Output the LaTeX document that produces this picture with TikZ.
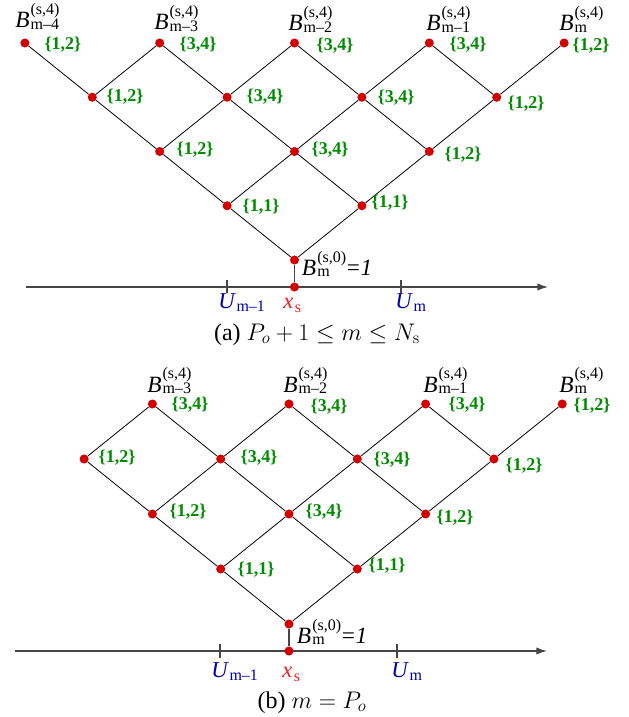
\RequirePackage{fix-cm}
\documentclass[tikz,border=0pt]{standalone}
\usepackage{amsmath}
\usepackage[no-math]{fontspec}
\setmainfont{Liberation Serif}
\usetikzlibrary{arrows.meta}
\definecolor{dotred}{RGB}{210,0,0}
\definecolor{lblgreen}{RGB}{0,140,0}
\definecolor{ublue}{RGB}{0,0,170}
\definecolor{xred}{RGB}{240,30,30}
\definecolor{axisgray}{RGB}{70,70,70}
\newlength\supw
\newlength\subw
\newcommand{\scsz}{\fontsize{12}{12}\selectfont}
\newcommand{\SubSup}[4]{\settowidth\supw{\scsz #1}\settowidth\subw{\scsz #2}%
  \rlap{\raisebox{#3}{\scsz #1}}\rlap{\raisebox{#4}{\scsz #2}}%
  \ifdim\supw>\subw\hspace{\supw}\else\hspace{\subw}\fi}
\newcommand{\Bfour}[1]{\textit{B}\kern0.8pt\SubSup{(s,4)}{#1}{9.8pt}{-1pt}}
\newcommand{\Bzero}{\textit{B}\kern0.8pt\SubSup{(s,0)}{m}{9.3pt}{-1pt}\kern0.5pt=\kern0.5pt\textit{1}}
\newcommand{\Ulbl}[1]{\textit{U}\kern0.5pt\raisebox{-2.6pt}{\scsz #1}}
\newcommand{\Xlbl}{\textit{x}\kern1.2pt\raisebox{-3.6pt}{\scsz s}}
\begin{document}
\begin{tikzpicture}[x=0.75pt,y=-0.75pt,
  dot/.style={circle,fill=dotred,inner sep=0pt,minimum size=6.8pt},
  ln/.style={line width=0.6pt,black},
  grp/.style={font=\fontsize{13.5}{14}\selectfont\bfseries,text=lblgreen,inner sep=0pt},
  blbl/.style={font=\fontsize{17.5}{18}\selectfont,inner sep=0pt,anchor=base west},
  axlbl/.style={font=\fontsize{17}{17}\selectfont,inner sep=0pt,anchor=base west},
  axisline/.style={line width=0.9pt,axisgray,-{Latex[length=8pt,width=5.5pt]}},
  tickline/.style={line width=0.8pt,axisgray},
  vline/.style={line width=0.9pt,axisgray},
  captext/.style={font=\fontsize{18}{19}\selectfont,inner sep=0pt,anchor=base}]
\useasboundingbox (0,0) rectangle (628,717);

% ================= (a) =================
\coordinate (aAL) at (26,287);
\coordinate (aAR) at (548,287);
\draw[axisline] (aAL) -- (aAR);
\coordinate (aT1a) at (227,280); \coordinate (aT1b) at (227,293);
\coordinate (aT2a) at (401,280); \coordinate (aT2b) at (401,293);
\draw[tickline] (aT1a) -- (aT1b);
\draw[tickline] (aT2a) -- (aT2b);

\node[dot] (a0) at (294.5,260) {};
\node[dot] (axs) at (294.5,287) {};
\node[dot] (a1m) at (227.1,205.75) {};
\node[dot] (a1p) at (361.9,205.75) {};
\node[dot] (a2m) at (159.7,151.5) {};
\node[dot] (a2z) at (294.5,151.5) {};
\node[dot] (a2p) at (429.3,151.5) {};
\node[dot] (a3a) at (92.3,97.25) {};
\node[dot] (a3b) at (227.1,97.25) {};
\node[dot] (a3c) at (361.9,97.25) {};
\node[dot] (a3d) at (496.7,97.25) {};
\node[dot] (a4a) at (24.9,43) {};
\node[dot] (a4b) at (159.7,43) {};
\node[dot] (a4c) at (294.5,43) {};
\node[dot] (a4d) at (429.3,43) {};
\node[dot] (a4e) at (564.1,43) {};

\draw[vline] (a0) -- (axs);
\draw[ln] (a0) -- (a1m); \draw[ln] (a0) -- (a1p);
\draw[ln] (a1m) -- (a2m); \draw[ln] (a1m) -- (a2z);
\draw[ln] (a1p) -- (a2z); \draw[ln] (a1p) -- (a2p);
\draw[ln] (a2m) -- (a3a); \draw[ln] (a2m) -- (a3b);
\draw[ln] (a2z) -- (a3b); \draw[ln] (a2z) -- (a3c);
\draw[ln] (a2p) -- (a3c); \draw[ln] (a2p) -- (a3d);
\draw[ln] (a3a) -- (a4a); \draw[ln] (a3a) -- (a4b);
\draw[ln] (a3b) -- (a4b); \draw[ln] (a3b) -- (a4c);
\draw[ln] (a3c) -- (a4c); \draw[ln] (a3c) -- (a4d);
\draw[ln] (a3d) -- (a4d); \draw[ln] (a3d) -- (a4e);

% green labels (a)
\node[grp] (ga4a) at (63,45) {\{1,2\}};
\node[grp] (ga4b) at (198,45) {\{3,4\}};
\node[grp] (ga4c) at (335,46) {\{3,4\}};
\node[grp] (ga4d) at (468,45) {\{3,4\}};
\node[grp] (ga4e) at (591,46) {\{1,2\}};
\node[grp] (ga3a) at (125,97) {\{1,2\}};
\node[grp] (ga3b) at (265,97) {\{3,4\}};
\node[grp] (ga3c) at (396,98) {\{3,4\}};
\node[grp] (ga3d) at (526,104) {\{1,2\}};
\node[grp] (ga2m) at (195,150) {\{1,2\}};
\node[grp] (ga2z) at (330,150) {\{3,4\}};
\node[grp] (ga2p) at (463,155) {\{1,2\}};
\node[grp] (ga1m) at (261,207) {\{1,1\}};
\node[grp] (ga1p) at (390,203) {\{1,1\}};

% B labels (a)
\node[blbl] (ba4a) at (15,28) {\Bfour{m–4}};
\node[blbl] (ba4b) at (154,30) {\Bfour{m–3}};
\node[blbl] (ba4c) at (288,31) {\Bfour{m–2}};
\node[blbl] (ba4d) at (426,31) {\Bfour{m–1}};
\node[blbl] (ba4e) at (559,31) {\Bfour{m}};
\node[blbl] (ba0) at (301.7,275) {\Bzero};

% axis labels (a)
\node[axlbl,text=ublue] (aU1) at (218,308) {\Ulbl{m–1}};
\node[axlbl,text=xred] (aX) at (283,308) {\Xlbl};
\node[axlbl,text=ublue] (aU2) at (395,308) {\Ulbl{m}};
\node[captext] (capa) at (317,340) {(a) $P_o+1\le m\le N_{\mathrm{s}}$};

% ================= (b) =================
\coordinate (bAL) at (15,651);
\coordinate (bAR) at (547,651);
\draw[axisline] (bAL) -- (bAR);
\coordinate (bT1a) at (220,644); \coordinate (bT1b) at (220,658);
\coordinate (bT2a) at (397,644); \coordinate (bT2b) at (397,658);
\draw[tickline] (bT1a) -- (bT1b);
\draw[tickline] (bT2a) -- (bT2b);

\node[dot] (b0) at (289,624) {};
\node[dot] (bxs) at (289,651) {};
\node[dot] (b1m) at (220.7,569) {};
\node[dot] (b1p) at (357.3,569) {};
\node[dot] (b2m) at (152.4,514) {};
\node[dot] (b2z) at (289,514) {};
\node[dot] (b2p) at (425.6,514) {};
\node[dot] (b3a) at (84.1,459) {};
\node[dot] (b3b) at (220.7,459) {};
\node[dot] (b3c) at (357.3,459) {};
\node[dot] (b3d) at (493.9,459) {};
\node[dot] (b4b) at (152.4,404) {};
\node[dot] (b4c) at (289,404) {};
\node[dot] (b4d) at (425.6,404) {};
\node[dot] (b4e) at (562.2,404) {};

\draw[vline] (b0) -- (bxs);
\draw[ln] (b0) -- (b1m); \draw[ln] (b0) -- (b1p);
\draw[ln] (b1m) -- (b2m); \draw[ln] (b1m) -- (b2z);
\draw[ln] (b1p) -- (b2z); \draw[ln] (b1p) -- (b2p);
\draw[ln] (b2m) -- (b3a); \draw[ln] (b2m) -- (b3b);
\draw[ln] (b2z) -- (b3b); \draw[ln] (b2z) -- (b3c);
\draw[ln] (b2p) -- (b3c); \draw[ln] (b2p) -- (b3d);
\draw[ln] (b3a) -- (b4b);
\draw[ln] (b3b) -- (b4b); \draw[ln] (b3b) -- (b4c);
\draw[ln] (b3c) -- (b4c); \draw[ln] (b3c) -- (b4d);
\draw[ln] (b3d) -- (b4d); \draw[ln] (b3d) -- (b4e);

% green labels (b)
\node[grp] (gb4b) at (190,405) {\{3,4\}};
\node[grp] (gb4c) at (329,407) {\{3,4\}};
\node[grp] (gb4d) at (467,405) {\{3,4\}};
\node[grp] (gb4e) at (592,406) {\{1,2\}};
\node[grp] (gb3a) at (117,458) {\{1,2\}};
\node[grp] (gb3b) at (259,458) {\{3,4\}};
\node[grp] (gb3c) at (392,460) {\{3,4\}};
\node[grp] (gb3d) at (524,466) {\{1,2\}};
\node[grp] (gb2m) at (188,512) {\{1,2\}};
\node[grp] (gb2z) at (324,512) {\{3,4\}};
\node[grp] (gb2p) at (455,518) {\{1,2\}};
\node[grp] (gb1m) at (256,570) {\{1,1\}};
\node[grp] (gb1p) at (387,566) {\{1,1\}};

% B labels (b)
\node[blbl] (bb4b) at (147,392) {\Bfour{m–3}};
\node[blbl] (bb4c) at (283,392) {\Bfour{m–2}};
\node[blbl] (bb4d) at (423,392) {\Bfour{m–1}};
\node[blbl] (bb4e) at (559,392) {\Bfour{m}};
\node[blbl] (bb0) at (296.7,643) {\Bzero};

% axis labels (b)
\node[axlbl,text=ublue] (bU1) at (211,677) {\Ulbl{m–1}};
\node[axlbl,text=xred] (bX) at (282,677) {\Xlbl};
\node[axlbl,text=ublue] (bU2) at (391,677) {\Ulbl{m}};
\node[captext] (capb) at (312,708) {(b) $m=P_o$};
\end{tikzpicture}
\end{document}
